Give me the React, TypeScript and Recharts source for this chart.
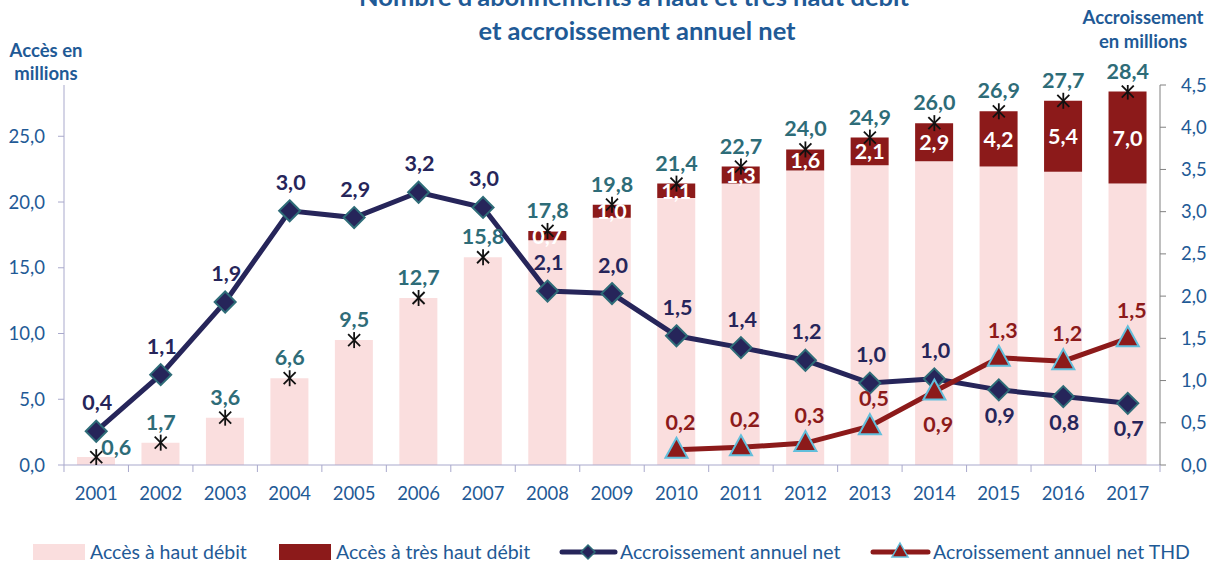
import React from "react";
import { ComposedChart, Bar, Line, XAxis, YAxis, LabelList } from "recharts";

const years = ["2001", "2002", "2003", "2004", "2005", "2006", "2007", "2008", "2009", "2010", "2011", "2012", "2013", "2014", "2015", "2016", "2017"];
// accès à haut débit (partie basse des barres)
const hautDebit = [0.6, 1.7, 3.6, 6.6, 9.5, 12.7, 15.8, 17.1, 18.8, 20.3, 21.4, 22.4, 22.8, 23.1, 22.7, 22.3, 21.4];
// accès à très haut débit (partie haute)
const tresHautDebit = [null, null, null, null, null, null, null, 0.7, 1.0, 1.1, 1.3, 1.6, 2.1, 2.9, 4.2, 5.4, 7.0];
const totals = [0.6, 1.7, 3.6, 6.6, 9.5, 12.7, 15.8, 17.8, 19.8, 21.4, 22.7, 24.0, 24.9, 26.0, 26.9, 27.7, 28.4];
const accroissement = [0.4, 1.07, 1.93, 3.01, 2.93, 3.23, 3.05, 2.06, 2.03, 1.53, 1.39, 1.24, 0.97, 1.02, 0.89, 0.81, 0.73];
const accroissementThd = [null, null, null, null, null, null, null, null, null, 0.18, 0.21, 0.26, 0.46, 0.87, 1.27, 1.23, 1.5];

const leftTicks = [0, 5, 10, 15, 20, 25];
const rightTicks = [0, 0.5, 1, 1.5, 2, 2.5, 3, 3.5, 4, 4.5];

const data = years.map((year, i) => ({
  year,
  hd: hautDebit[i],
  thd: tresHautDebit[i],
  total: totals[i],
  acc: accroissement[i],
  accThd: accroissementThd[i],
}));

const BLUE = "#1F5A96";
const PINK = "#FADEDE";
const DARKRED = "#8C1A1A";
const NAVY = "#26255A";
const TEAL = "#2E6C78";
const FONT = "Lato, 'Open Sans', sans-serif";
const LABEL_SIZE = 21.5;

const fmt = (v: any) => (v == null ? "" : Number(v).toFixed(1).replace(".", ","));

const Star = (p: any) => {
  const { cx, cy } = p;
  if (cx == null || cy == null) return <g key={p.key} />;
  return (
    <g key={p.key} stroke="#111" strokeWidth={1.8}>
      <line x1={cx - 6} y1={cy - 6} x2={cx + 6} y2={cy + 6} />
      <line x1={cx - 6} y1={cy + 6} x2={cx + 6} y2={cy - 6} />
      <line x1={cx} y1={cy - 8} x2={cx} y2={cy + 8} />
    </g>
  );
};

const Diamond = (p: any) => {
  const { cx, cy } = p;
  if (cx == null || cy == null) return <g key={p.key} />;
  const r = 10.5;
  return (
    <polygon
      key={p.key}
      points={`${cx},${cy - r} ${cx + r},${cy} ${cx},${cy + r} ${cx - r},${cy}`}
      fill={NAVY}
      stroke={TEAL}
      strokeWidth={2}
    />
  );
};

const Triangle = (p: any) => {
  const { cx, cy } = p;
  if (cx == null || cy == null || p.value == null) return <g key={p.key} />;
  return (
    <polygon
      key={p.key}
      points={`${cx},${cy - 12} ${cx + 11},${cy + 8} ${cx - 11},${cy + 8}`}
      fill={DARKRED}
      stroke="#62BEDB"
      strokeWidth={2}
    />
  );
};

const TotalLabel = (p: any) => {
  const { x, y, value, index } = p;
  if (value == null) return null;
  const side = index === 0;
  return (
    <text
      x={side ? x + 20 : x}
      y={side ? y - 10 : y - 21}
      textAnchor="middle"
      dominantBaseline="central"
      fill={TEAL}
      fontSize={LABEL_SIZE}
      fontWeight={700}
      fontFamily={FONT}
    >
      {fmt(value)}
    </text>
  );
};

const AccLabel = (p: any) => {
  const { x, y, value, index } = p;
  if (value == null) return null;
  const below = index >= 14;
  return (
    <text
      x={x + 1}
      y={below ? y + 25 : y - 29}
      textAnchor="middle"
      dominantBaseline="central"
      fill={NAVY}
      fontSize={LABEL_SIZE}
      fontWeight={700}
      fontFamily={FONT}
    >
      {fmt(value)}
    </text>
  );
};

const ThdLabel = (p: any) => {
  const { x, y, value, index } = p;
  if (value == null) return null;
  const below = index === 13;
  return (
    <text
      x={x + 4}
      y={below ? y + 32 : y - 28}
      textAnchor="middle"
      dominantBaseline="central"
      fill={DARKRED}
      fontSize={LABEL_SIZE}
      fontWeight={700}
      fontFamily={FONT}
    >
      {fmt(value)}
    </text>
  );
};

const SegLabel = (p: any) => {
  const { x, y, width, height, value } = p;
  if (value == null) return null;
  return (
    <text
      x={x + width / 2}
      y={y + height / 2}
      textAnchor="middle"
      dominantBaseline="central"
      fill="#fff"
      fontSize={LABEL_SIZE}
      fontWeight={700}
      fontFamily={FONT}
    >
      {fmt(value)}
    </text>
  );
};

const XTick = (p: any) => {
  const { x, payload, index } = p;
  const half = 32.25;
  return (
    <g>
      <line x1={x - half} x2={x - half} y1={465} y2={472} stroke="#A9A9CC" />
      {index === years.length - 1 && <line x1={x + half} x2={x + half} y1={465} y2={472} stroke="#A9A9CC" />}
      <text x={x} y={493} textAnchor="middle" dominantBaseline="central" fill={BLUE} fontSize={18.5} fontFamily={FONT}>
        {payload.value}
      </text>
    </g>
  );
};

export default function App() {
  return (
    <div style={{ position: "fixed", left: 0, top: 0, width: 1208, height: 562, background: "#fff", fontFamily: FONT }}>
      <ComposedChart width={1208} height={562} data={data} margin={{ top: 85, right: 0, bottom: 67, left: 0 }}>
        <XAxis dataKey="year" height={30} axisLine={{ stroke: "#A9A9CC" }} tickLine={false} tick={XTick} interval={0} />
        <YAxis
          yAxisId="left"
          width={64}
          domain={[0, 28.9]}
          ticks={leftTicks}
          tickFormatter={fmt}
          axisLine={{ stroke: "#A9A9CC" }}
          tickLine={{ stroke: "#A9A9CC" }}
          tickSize={6}
          tickMargin={13}
          tick={{ fill: BLUE, fontSize: 18.5, fontFamily: FONT }}
          allowDataOverflow
        />
        <YAxis
          yAxisId="right"
          orientation="right"
          width={48}
          domain={[0, 4.5]}
          ticks={rightTicks}
          tickFormatter={fmt}
          axisLine={{ stroke: "#808080" }}
          tickLine={{ stroke: "#808080" }}
          tickSize={6}
          tickMargin={15}
          tick={{ fill: BLUE, fontSize: 18.5, fontFamily: FONT, textAnchor: "start" }}
        />
        <Bar yAxisId="left" dataKey="hd" stackId="a" fill={PINK} barSize={38} isAnimationActive={false} />
        <Bar yAxisId="left" dataKey="thd" stackId="a" fill={DARKRED} barSize={38} isAnimationActive={false}>
          <LabelList dataKey="thd" content={SegLabel} />
        </Bar>
        <Line yAxisId="left" dataKey="total" stroke="none" strokeWidth={0} dot={Star} activeDot={false} isAnimationActive={false}>
          <LabelList dataKey="total" content={TotalLabel} />
        </Line>
        <Line yAxisId="right" dataKey="acc" stroke={NAVY} strokeWidth={5} dot={Diamond} activeDot={false} isAnimationActive={false}>
          <LabelList dataKey="acc" content={AccLabel} />
        </Line>
        <Line yAxisId="right" dataKey="accThd" stroke={DARKRED} strokeWidth={5} dot={Triangle} activeDot={false} isAnimationActive={false}>
          <LabelList dataKey="accThd" content={ThdLabel} />
        </Line>
      </ComposedChart>

      <svg width={1208} height={562} style={{ position: "absolute", left: 0, top: 0, pointerEvents: "none" }} fontFamily={FONT}>
        <g fill={BLUE} fontWeight={700} textAnchor="middle">
          <text x={634} y={6} fontSize={25.5}>Nombre d’abonnements à haut et très haut débit</text>
          <text x={637} y={40} fontSize={25.5}>et accroissement annuel net</text>
          <text x={46} y={57} fontSize={18.5}>Accès en</text>
          <text x={46} y={80} fontSize={18.5}>millions</text>
          <text x={1143} y={24} fontSize={18.5}>Accroissement</text>
          <text x={1143} y={48} fontSize={18.5}>en millions</text>
        </g>
        <g fontSize={19.5} fill={BLUE}>
          <rect x={33} y={544} width={52} height={16} fill={PINK} />
          <text x={90} y={559}>Accès à haut débit</text>
          <rect x={279} y={544} width={52} height={16} fill={DARKRED} />
          <text x={336} y={559}>Accès à très haut débit</text>
          <line x1={562} x2={615} y1={552} y2={552} stroke={NAVY} strokeWidth={5} strokeLinecap="round" />
          <polygon points="588,545 595,552 588,559 581,552" fill={NAVY} stroke={TEAL} strokeWidth={1.5} />
          <text x={620} y={559}>Accroissement annuel net</text>
          <line x1={873} x2={928} y1={552} y2={552} stroke={DARKRED} strokeWidth={5} strokeLinecap="round" />
          <polygon points="900,543 908,557 892,557" fill={DARKRED} stroke="#62BEDB" strokeWidth={1.5} />
          <text x={933} y={559}>Acroissement annuel net THD</text>
        </g>
      </svg>
    </div>
  );
}
